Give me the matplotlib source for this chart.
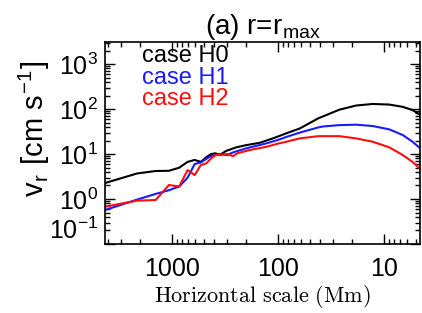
import matplotlib
matplotlib.use("Agg")
import matplotlib.pyplot as plt
from matplotlib.ticker import FixedLocator, FixedFormatter, LogLocator, NullFormatter

plt.rcParams['font.family'] = ['Liberation Sans', 'DejaVu Sans']
plt.rcParams['mathtext.fontset'] = 'cm'
plt.rcParams['axes.unicode_minus'] = False

# Horizontal scale (Mm) and v_r (cm/s)
h0_x = [4250, 2125, 1417, 1062, 850, 708, 607, 531, 472, 425, 386, 354, 305, 246, 198, 148, 111, 83, 62, 41.6, 26.2, 18.2, 12.7, 8.86, 6.6, 5.35, 4.4]
h0_y = [2.27, 3.7, 4.2, 4.25, 4.97, 6.7, 7.4, 6.7, 8.5, 10.0, 10.4, 9.5, 11.8, 14.1, 15.8, 17.8, 22.3, 28.9, 37, 62, 97, 120, 130, 126, 112, 95, 72]

h1_x = [4250, 2125, 1417, 1062, 850, 708, 607, 531, 440, 394, 354, 300, 264, 198, 128, 100, 83, 62, 41.6, 37.6, 26.2, 18.2, 12.7, 8.86, 6.6, 5.35, 4.4]
h1_y = [0.57, 0.97, 1.3, 1.57, 1.9, 2.98, 6.0, 6.5, 8.7, 9.5, 10.0, 9.5, 10.9, 13.4, 17.3, 20.5, 24, 30, 39, 41, 44, 45, 42, 35.4, 26.4, 18.8, 12.7]

h2_x = [4250, 2125, 1417, 1062, 850, 708, 607, 531, 472, 425, 386, 354, 300, 264, 240, 184, 128, 100, 83, 62, 41.6, 26.2, 18.2, 12.7, 8.86, 6.6, 5.35, 4.4]
h2_y = [0.68, 0.92, 0.95, 2.05, 1.9, 4.4, 3.4, 5.7, 6.2, 8.0, 9.5, 9.5, 10.0, 9.0, 10.4, 12.3, 14.5, 17, 18.8, 22.3, 25, 25, 22.3, 18.8, 14.1, 9.5, 6.7, 4.4]

series_labels = ['case H0', 'case H1', 'case H2']
series_colors = ['black', '#1a1aff', '#ff0d0d']
x_ticks = [1000, 100, 10]
x_ticklabels = ['1000', '100', '10']

fig = plt.figure(figsize=(4.22, 3.13), dpi=100)
ax = fig.add_axes([0.249, 0.2204, 0.7474, 0.6454])

for xs, ys, c in zip([h0_x, h1_x, h2_x], [h0_y, h1_y, h2_y], series_colors):
    ax.plot(xs, ys, color=c, lw=1.5)

ax.set_xscale('log')
ax.set_yscale('log')
ax.set_xlim(4250, 4.5)
ax.set_ylim(0.1, 3100)

ax.xaxis.set_major_locator(FixedLocator(x_ticks))
ax.xaxis.set_major_formatter(FixedFormatter(x_ticklabels))
ax.xaxis.set_minor_locator(LogLocator(base=10, subs=range(2, 10), numticks=20))
ax.xaxis.set_minor_formatter(NullFormatter())
ax.yaxis.set_major_locator(LogLocator(base=10, numticks=10))
ax.yaxis.set_minor_locator(LogLocator(base=10, subs=range(2, 10), numticks=20))
ax.yaxis.set_minor_formatter(NullFormatter())

ax.tick_params(which='both', direction='in', top=True, right=True, width=1)
ax.tick_params(which='major', length=7)
ax.tick_params(which='minor', length=3.5)
ax.tick_params(axis='x', which='major', labelsize=18, pad=9)
ax.tick_params(axis='y', which='major', labelsize=18, pad=5)
for s in ax.spines.values():
    s.set_linewidth(1.2)

ax.set_title(r'(a) r=r$_{\mathdefault{max}}$', fontsize=20, pad=4)
ax.set_ylabel(r'v$_{\mathdefault{r}}$ [cm s$^{\mathdefault{-1}}$]', fontsize=21)
ax.yaxis.set_label_coords(-0.168, 0.57)
ax.set_xlabel(r'$\mathrm{Horizontal\ scale\ (Mm)}$', fontsize=16, labelpad=2)

fig.canvas.draw()
for lab in ax.get_yticklabels():
    if abs(lab.get_position()[1] - 0.1) < 1e-6:
        lab.set_verticalalignment('bottom')

for i, (lab, c) in enumerate(zip(series_labels, series_colors)):
    ax.text(0.116, 0.932 - i * 0.108, lab, color=c, fontsize=17,
            transform=ax.transAxes, ha='left', va='center')

fig.savefig('out.png', dpi=100)
